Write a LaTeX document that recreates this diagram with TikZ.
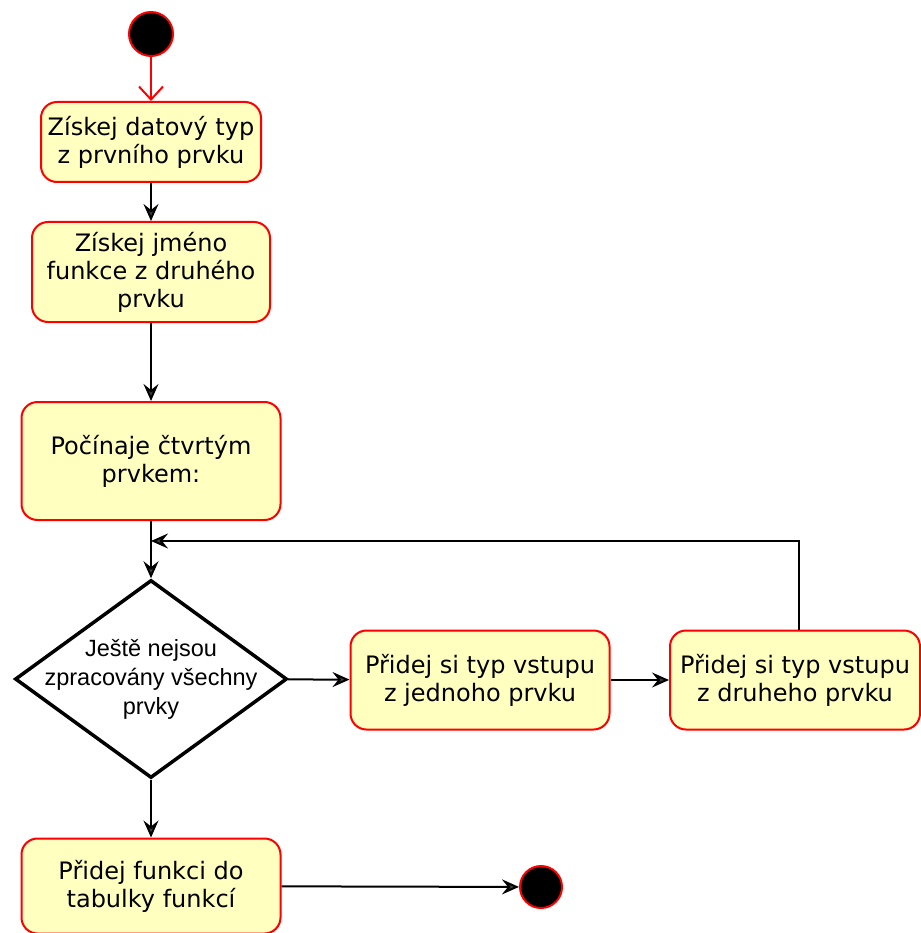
\documentclass[tikz,border=0pt]{standalone}
\usepackage{fontspec}
\setmainfont{DejaVu Sans}
\newfontfamily\diamondfont{Liberation Sans}
\usetikzlibrary{shapes.geometric,arrows.meta}

\definecolor{actfill}{HTML}{FFFFC0}
\tikzset{
    activity/.style={rectangle, rounded corners=16pt, draw=red, line width=2pt,
        fill=actfill, align=center, font=\fontsize{24}{28}\selectfont},
    decision/.style={diamond, draw=black, line width=3.5pt, fill=white, inner sep=0pt,
        minimum width=272pt, minimum height=198pt},
    decisiontext/.style={align=center, font=\diamondfont\fontsize{23.5}{29}\selectfont},
    startend/.style={circle, draw=red, line width=2pt, fill=black, inner sep=0pt},
    flow/.style={line width=2pt, -{Stealth[length=17pt, width=15pt, inset=6pt, fill=black!75]}},
    startflow/.style={red, line width=2pt, -{Straight Barb[length=13pt, width=24pt]}}
}

\begin{document}
\begin{tikzpicture}[x=1pt, y=-1pt]
    \useasboundingbox (0,0) rectangle (920,933);

    % ==== START / END ====
    \node[startend, minimum size=44pt] (start) at (151,34) {};
    \node[startend, minimum size=42pt] (finish) at (541,887) {};

    % ==== ACTIVITIES ====
    \node[activity, minimum width=220pt, minimum height=80pt] (typ) at (151,142)
        {Získej datový typ\\z prvního prvku};
    \node[activity, minimum width=238pt, minimum height=100pt] (jmeno) at (151,272)
        {Získej jméno\\funkce z druhého\\prvku};
    \node[activity, minimum width=259pt, minimum height=118pt] (pocinaje) at (151,461)
        {Počínaje čtvrtým\\prvkem:};
    \node[activity, minimum width=259pt, minimum height=99pt] (vstupA) at (480,680)
        {Přidej si typ vstupu\\z jednoho prvku};
    \node[activity, minimum width=250pt, minimum height=99pt] (vstupB) at (795,680)
        {Přidej si typ vstupu\\z druheho prvku};
    \node[activity, minimum width=259pt, minimum height=95pt] (pridej) at (151,886)
        {Přidej funkci do\\tabulky funkcí};

    % ==== DECISION ====
    \node[decision, label={[decisiontext]center:Ještě nejsou\\zpracovány všechny\\prvky}]
        (dalsi) at (151,679) {};

    % ==== FLOWS ====
    \coordinate (smycka) at (151,541);
    \draw[startflow] (start) -- (typ);
    \draw[flow] (typ) -- (jmeno);
    \draw[flow] (jmeno) -- (pocinaje);
    \draw[flow] (pocinaje) -- (dalsi);
    \draw[flow] (dalsi) -- (vstupA);
    \draw[flow] (vstupA) -- (vstupB);
    \draw[flow] ([xshift=4pt]vstupB.north) |- (smycka);
    \draw[flow] (dalsi) -- (pridej);
    \draw[flow] (pridej) -- (finish);
\end{tikzpicture}
\end{document}
